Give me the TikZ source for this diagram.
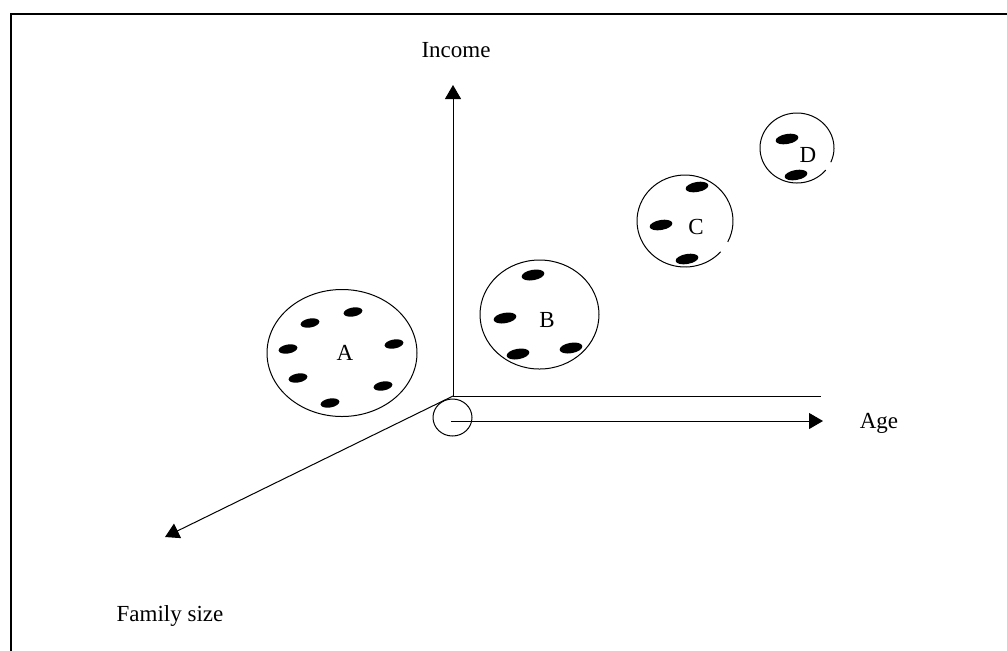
\documentclass[tikz,border=0pt]{standalone}
\usepackage{fontspec}
\setmainfont{Liberation Serif}
\usetikzlibrary{arrows.meta}

\begin{document}
\begin{tikzpicture}[x=0.5pt, y=-0.5pt,
    thinline/.style={line width=0.5pt},
    axis/.style={line width=0.5pt, -{Triangle[length=7pt, width=8pt]}},
    lbl/.style={font=\fontsize{11.5}{14}\selectfont, inner sep=0pt, anchor=base}]
    \useasboundingbox (0,0) rectangle (1007,650);
    \clip (0,0) rectangle (1007,650);

    % Frame
    \draw[line width=1.2pt] (11,14) rectangle (1030,680);

    % Axes
    \coordinate (O) at (453,396);
    \coordinate (inctip) at (453,85);
    \coordinate (flatend) at (821,396);
    \coordinate (agestart) at (451,421);
    \coordinate (agetip) at (823,421);
    \coordinate (famtip) at (165,537);
    \draw[axis] (O) -- (inctip);
    \draw[thinline] (O) -- (flatend);
    \draw[axis] (agestart) -- (agetip);
    \draw[axis] (O) -- (famtip);
    \draw[thinline] (452.5,417.5) ellipse [x radius=9.75pt, y radius=9.25pt];

    \node[lbl] (income) at (456,57) {Income};
    \node[lbl] (age) at (879,428) {Age};
    \node[lbl] (famsize) at (170,621) {Family size};

    % Group A
    \draw[thinline] (342,353) ellipse [x radius=37.5pt, y radius=31.75pt];
    \node[lbl] (A) at (345,360) {A};
    \foreach \px/\py in {353/312, 310/323, 288/349, 394/344, 298/378, 383/386, 330/403}
        \fill[shift={(\px,\py)}, rotate=10] (0,0) ellipse [x radius=4.75pt, y radius=2.25pt];

    % Group B
    \draw[thinline] (539.5,314.5) ellipse [x radius=29.75pt, y radius=27.25pt];
    \node[lbl] (B) at (547,327) {B};
    \foreach \px/\py in {533/275, 505/318, 518/354, 571/348}
        \fill[shift={(\px,\py)}, rotate=10] (0,0) ellipse [x radius=5.75pt, y radius=2.6pt];

    % Group C
    \draw[thinline] (685,221) ++(-27:24pt and 23pt)
        arc[start angle=-27, end angle=318, x radius=24pt, y radius=23pt];
    \node[lbl] (C) at (696,234) {C};
    \foreach \px/\py in {697/187, 661/225, 687/259}
        \fill[shift={(\px,\py)}, rotate=10] (0,0) ellipse [x radius=5.75pt, y radius=2.5pt];

    % Group D
    \draw[thinline] (797,148) ++(-24:18.5pt and 17.5pt)
        arc[start angle=-24, end angle=321, x radius=18.5pt, y radius=17.5pt];
    \node[lbl] (D) at (808,162) {D};
    \foreach \px/\py in {787/139, 796/175}
        \fill[shift={(\px,\py)}, rotate=10] (0,0) ellipse [x radius=5.75pt, y radius=2.5pt];
\end{tikzpicture}
\end{document}
